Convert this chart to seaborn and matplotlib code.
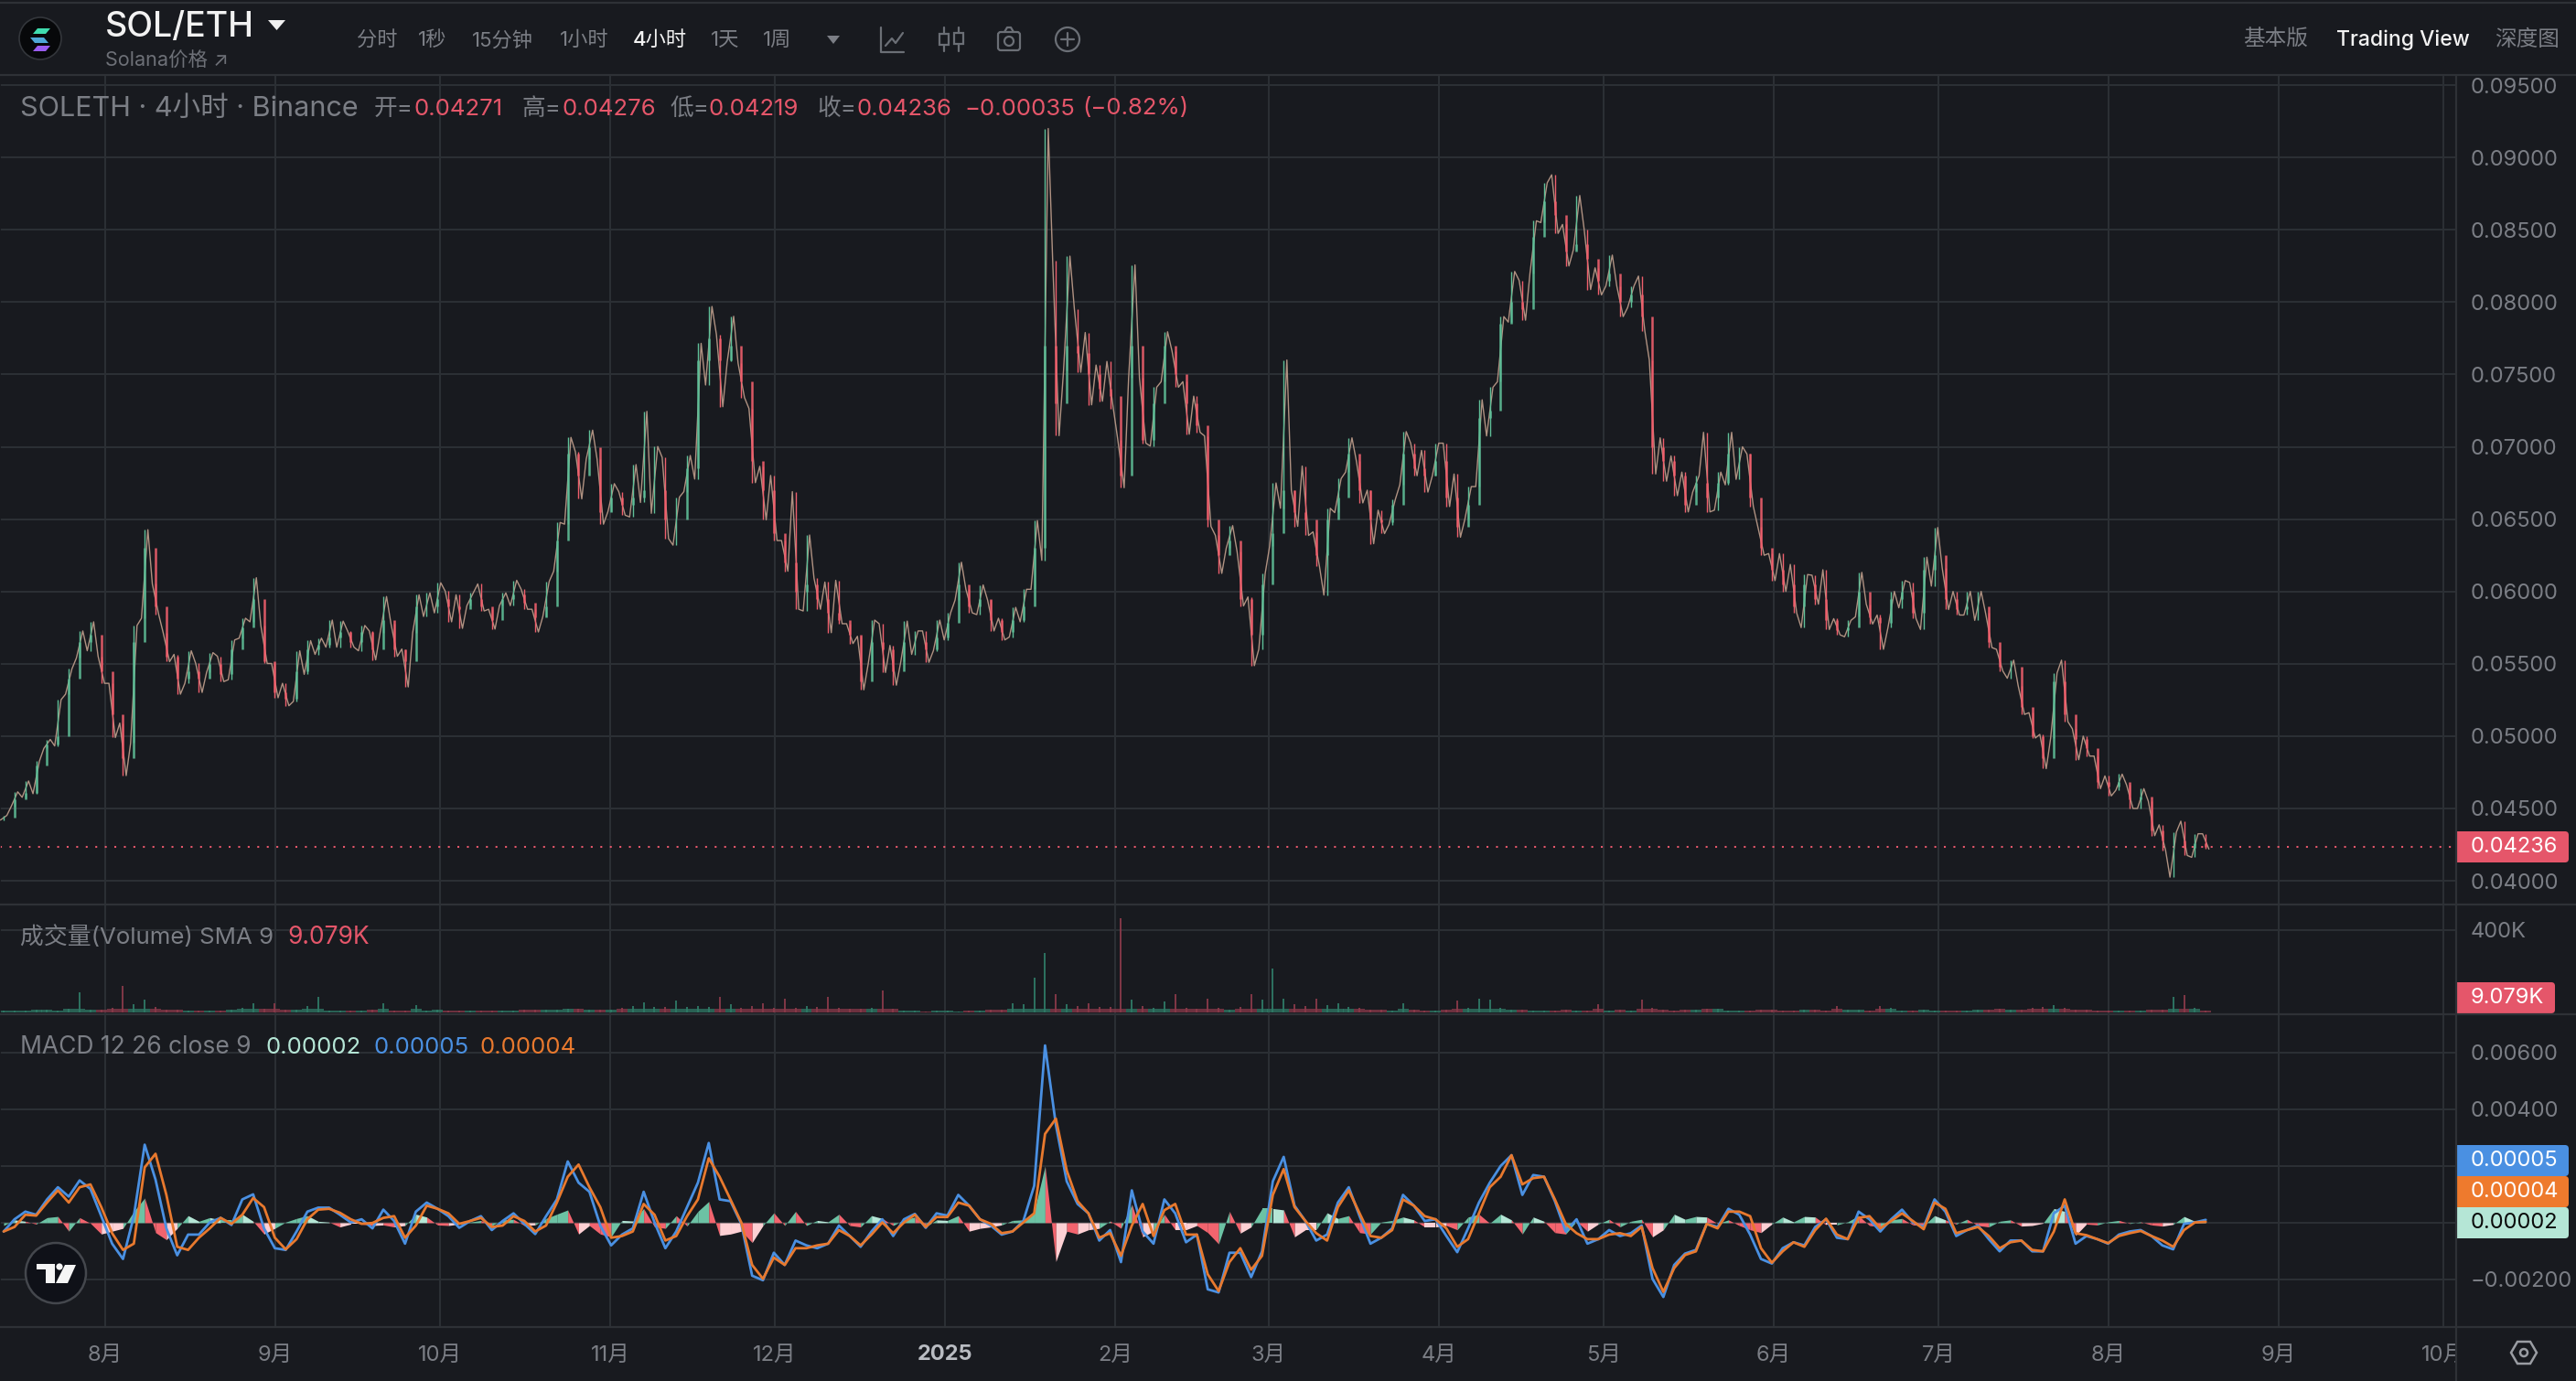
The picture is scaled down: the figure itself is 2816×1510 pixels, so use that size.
import numpy as np
import pandas as pd
import matplotlib
matplotlib.use("Agg")
import matplotlib.pyplot as plt
from matplotlib.patches import Circle, Polygon, Rectangle, FancyBboxPatch, Ellipse
import seaborn as sns

# all price / macd numbers are in 1e-5, volume in K
high = [4452,4615,4690,4827,4977,5252,5465,5727,5790,5552,5365,5090,5765,6427,6052,5715,5565,5590,5502,5577,
        5552,5665,5815,6095,5765,5502,5365,5590,5660,5677,5802,5795,5727,5765,5727,5965,5777,5602,5977,5990,
        6060,6002,5977,5990,6052,5877,5990,6077,6015,5877,6070,6477,
        7065,6965,7115,6915,6745,6690,6877,7245,7002,6927,6652,6940,7715,7970,7777,7902,7577,7265,6865,6802,
        6352,6690,6390,6090,6065,6077,5777,5690,5802,5777,5627,5795,5727,5727,5802,5852,6202,6015,6045,5940,
        5815,5890,6015,6490,9200,8286,8318,7952,7790,7565,7590,
        7050,8257,7475,7412,7795,7662,7450,7350,7075,6387,6455,6275,5962,6125,6750,7600,6700,6867,6412,6575,
        6780,7062,6900,6700,6562,6637,7105,7025,6975,7025,7025,6812,6725,7325,7412,7900,8212,8150,8562,8825,
        8880,8537,8737,8500,8237,8325,8112,8112,8180,7600,7062,
        6937,6825,6800,7100,6825,7100,7000,6950,6450,6262,6262,6187,6117,6112,6150,5812,5800,6132,5912,5837,
        6000,6075,6062,6237,6442,6162,6000,6000,6000,5850,5600,5525,5350,5162,5012,5437,5525,5050,5000,4862,
        4725,4737,4662,4637,4550,4387,4337,4412,4325,4325]
low = [4420,4515,4577,4602,4915,4932,5290,5540,5590,5365,4990,4727,4952,5815,5840,5515,5290,5365,5302,5440,
       5377,5390,5677,5790,5502,5265,5210,5240,5427,5565,5615,5615,5615,5590,5527,5715,5552,5340,5715,5827,
       5852,5790,5745,5902,5865,5740,5902,5902,5877,5720,5827,6140,
       6465,6640,6915,6465,6552,6527,6515,6615,6540,6365,6320,6690,6777,7427,7277,7590,7340,6752,6495,6352,
       6140,5877,5865,5877,5715,5777,5640,5320,5502,5440,5352,5515,5565,5510,5590,5665,5940,5852,5840,5727,
       5665,5685,5790,6015,6215,7077,7527,7515,7290,7315,7265,
       6717,7475,7025,7005,7450,7412,7087,7100,6450,6125,6300,5900,5487,5600,6312,6575,6450,6387,6175,5975,
       6545,6825,6612,6330,6400,6462,6737,6800,6687,6800,6587,6375,6500,6725,7075,7450,7862,7875,8200,8550,
       8475,8250,8362,8087,8050,8112,7900,7962,7800,6812,6762,
       6662,6550,6687,6550,6562,6737,6775,6587,6250,6075,6000,5850,5750,5912,5737,5700,5687,5825,5775,5600,
       5750,5887,5812,5737,6037,5875,5837,5837,5800,5612,5450,5400,5150,4987,4775,4987,5100,4837,4862,4637,
       4587,4625,4500,4500,4312,4212,4025,4175,4162,4219]
close = [4435,4560,4610,4800,4940,5000,5400,5650,5700,5450,5150,4850,5650,6300,5900,5550,5400,5450,5400,5500,
         5430,5600,5750,5950,5520,5300,5260,5450,5600,5630,5680,5720,5650,5720,5600,5800,5600,5520,5900,5900,
         5950,5900,5880,5950,5900,5800,5950,5980,5920,5820,5900,6350,
         6950,6800,7000,6550,6650,6600,6650,6700,6700,6500,6500,6850,7600,7750,7600,7700,7450,6900,6700,6400,
         6200,6000,6050,5950,5850,5800,5700,5380,5650,5600,5450,5650,5650,5600,5680,5780,6050,5900,5950,5800,
         5720,5800,5900,6300,7700,7300,7700,7650,7500,7400,7350,
         6800,7700,7050,7300,7700,7500,7300,7150,6500,6250,6350,5950,5700,6050,6400,6700,6550,6500,6250,6500,
         6650,6950,6700,6500,6480,6600,6950,6850,6800,6900,6650,6450,6600,7200,7250,7850,8000,7950,8450,8700,
         8600,8350,8400,8300,8150,8200,8000,8050,7900,7000,6900,
         6800,6600,6750,6650,6750,6950,6950,6650,6300,6150,6050,5900,6050,5950,5800,5730,5750,6000,5820,5780,
         5950,6000,5850,6150,6250,5950,5880,5900,5900,5650,5480,5480,5200,5000,4850,5380,5150,4980,4920,4680,
         4650,4680,4560,4580,4350,4280,4280,4230,4260,4236]
volume = [8,10,9,12,14,10,16,96,12,14,20,130,40,60,25,14,12,10,9,10,
          10,14,22,45,16,45,12,14,32,75,10,8,9,10,12,45,10,9,35,10,
          12,9,8,10,9,8,9,10,12,15,14,12,18,16,14,12,15,22,30,50,
          26,28,58,26,30,28,75,40,24,30,45,22,66,24,30,28,75,22,18,16,
          22,107,18,10,7,6,7,8,6,8,10,12,14,44,40,170,289,90,40,30,
          44,28,26,458,60,30,22,53,89,24,18,66,22,15,25,89,60,213,66,40,
          30,66,35,44,28,20,14,12,10,44,14,10,8,12,58,24,66,62,22,14,
          12,10,8,10,12,9,8,40,10,12,10,62,24,14,10,12,14,16,18,10,
          9,10,14,12,10,9,12,14,10,31,12,14,10,31,22,10,9,14,10,10,
          8,10,12,14,16,12,15,22,28,36,20,14,12,10,9,10,8,9,12,14,
          76,85,22,10]
macd_line = [-31,12,39,28,82,125,92,149,119,23,-74,-128,23,275,152,-20,-115,-42,-42,1,
             17,-8,82,100,-20,-90,-96,-31,39,53,53,28,1,12,-20,46,6,-74,39,71,
             49,23,-18,6,23,-26,6,33,-4,-40,23,82,216,141,109,-10,-80,-42,-20,109,
             1,-90,-31,55,141,281,82,
             76,-4,-187,-203,-106,-149,-63,-80,-90,-74,-10,-47,-85,-31,12,-47,12,31,-18,33,
             25,98,60,12,-10,-42,-31,6,130,625,345,146,66,33,-63,-26,-139,114,-31,-74,
             82,33,-69,-42,-235,-246,-106,-106,-192,-101,146,232,60,6,-63,-42,71,125,23,-74,
             -53,-20,98,60,6,12,-47,-104,
             -20,71,141,200,238,98,168,162,76,-31,12,-74,-58,-26,-47,-37,-10,-198,-262,-149,
             -109,-96,-4,-15,49,28,-42,-128,-144,-90,-69,-80,-15,12,-53,-58,39,12,-31,12,
             46,1,-15,82,39,-47,-26,-10,-58,-101,-63,-63,-101,-101,33,60,-74,-47,-58,-74,
             -42,-31,-26,-47,-80,-94,-4,1,10]
signal_line = [-31,-15,28,25,71,114,71,125,135,55,-37,-96,-74,195,243,98,-85,-96,-53,-20,
               17,-4,28,87,55,-53,-94,-58,12,46,49,35,12,-4,-1,17,23,-53,-10,60,
               49,33,-4,6,17,-15,-10,23,6,-31,-10,71,162,205,125,55,-53,-47,-31,66,
               28,-63,-47,23,82,227,162,
               82,1,-149,-198,-123,-149,-90,-90,-80,-74,-26,-47,-80,-42,1,-37,1,28,-15,20,
               20,71,60,12,-4,-37,-31,1,33,313,367,184,76,33,-53,-37,-117,-10,66,-47,
               44,66,-42,-42,-182,-241,-139,-90,-166,-117,98,189,55,6,-37,-63,55,114,33,-47,
               -53,-26,82,60,23,12,-20,-85,
               -58,33,125,162,238,135,157,162,82,-4,-37,-58,-58,-42,-37,-47,-15,-160,-244,-160,
               -114,-101,-4,-20,39,39,23,-90,-141,-101,-69,-85,-26,14,-42,-58,17,23,-20,6,
               33,6,-23,71,49,-37,-26,-15,-47,-90,-69,-63,-96,-101,-31,82,-37,-44,-58,-72,
               -47,-37,-29,-47,-63,-85,-26,1,3]
hist = [-10,10,5,-5,18,22,-30,18,-2,-40,-30,-20,40,87,-35,-60,-20,25,5,18,
        10,10,30,5,-40,-20,2,15,25,5,2,-15,-5,-5,-10,-8,-15,-10,30,20,
        -8,-10,-5,2,8,-10,10,12,-10,-8,15,30,45,-40,-10,-40,-50,8,6,50,
        -15,-20,25,-12,40,75,-45,
        -40,-30,-70,-10,35,-10,40,-10,8,3,30,-10,-15,25,15,-10,10,20,-15,10,
        8,25,-30,-20,-15,-8,8,10,40,200,-137,-30,-40,-25,-20,6,-20,65,-50,-30,
        30,-25,-25,-10,-35,-75,40,-37,-15,50,50,45,-50,-25,-25,35,15,25,-35,-40,
        2,8,20,10,-15,-15,-10,-25,
        20,30,-2,30,10,-40,20,5,-35,-40,5,-30,-5,12,-15,5,12,-50,-25,30,
        12,22,20,-3,10,-10,-25,-35,-5,20,3,22,20,-8,-8,3,25,-10,-15,10,
        15,-8,-10,25,10,-5,12,-10,-15,5,10,-12,-10,-2,50,40,-45,-5,-8,3,
        8,-3,3,-8,-12,-6,22,5,2]

month_dates = ["2024-08-01","2024-09-01","2024-10-01","2024-11-01","2024-12-01","2025-01-01","2025-02-01",
               "2025-03-01","2025-04-01","2025-05-01","2025-06-01","2025-07-01","2025-08-01","2025-09-01","2025-10-01"]
month_labels = ["8月","9月","10月","11月","12月","2025","2月","3月","4月","5月","6月","7月","8月","9月","10月"]
price_ticks = [9500,9000,8500,8000,7500,7000,6500,6000,5500,5000,4500,4000]
macd_ticks = [600,400,200,0,-200]
macd_tick_labels = ["0.00600","0.00400","","","\u22120.00200"]  # the two middle ones sit under the value tags

W, H = 2816, 1510
BG = "#181a1f"
GRID = "#2b2f34"
GREY = "#7b7e85"
RED = "#e5566a"
GREEN = "#5fbf98"
CAND_RED = "#ef5f6c"

sns.set_theme(style="darkgrid", rc={"axes.facecolor": BG, "figure.facecolor": BG, "grid.color": GRID,
                                    "grid.linewidth": 1.5, "axes.edgecolor": BG})
plt.rcParams["font.family"] = ["Inter", "Noto Sans CJK SC", "DejaVu Sans"]

dates = pd.date_range("2024-07-13 12:00", periods=len(close), freq="2846min")
df = pd.DataFrame({"date": dates, "high": np.array(high) / 1e5, "low": np.array(low) / 1e5,
                   "close": np.array(close) / 1e5, "volume": np.array(volume) * 1e3,
                   "macd": np.array(macd_line) / 1e5, "signal": np.array(signal_line) / 1e5,
                   "hist": np.array(hist) / 1e5})
df["open"] = df["close"].shift(1).fillna(df["close"])
up = df["close"] >= df["open"]
months = pd.to_datetime(month_dates)

fig = plt.figure(figsize=(W / 100, H / 100), dpi=100)


def pane(y0, y1):
    return fig.add_axes([0, 1 - y1 / H, 2685 / W, (y1 - y0) / H])


ax_price = pane(82, 989)
ax_vol = pane(989, 1109)
ax_macd = pane(1109, 1451)
x_range = (pd.Timestamp("2024-07-12 20:00"), pd.Timestamp("2025-10-03 08:00"))

for ax in (ax_price, ax_vol, ax_macd):
    ax.set_xlim(x_range)
    ax.set_xticks(months)
    ax.set_axisbelow(True)
    ax.yaxis.tick_right()
    ax.tick_params(axis="y", length=0, pad=11, labelsize=17, labelcolor=GREY)
    ax.tick_params(axis="x", length=0, labelbottom=False)

# price pane: each bucket is walked low-high or high-low so the trace stays jagged
half = pd.Timedelta(hours=14)
zig_x, zig_y = [], []
for row, is_up in zip(df.itertuples(), up):
    first, second = (row.low, row.high) if is_up else (row.high, row.low)
    zig_x += [row.date - half, row.date + half]
    zig_y += [first, second]
zig = pd.DataFrame({"date": zig_x, "price": zig_y})
sns.lineplot(data=zig, x="date", y="price", ax=ax_price, color="#b09282", linewidth=1.0,
             estimator=None, sort=False, zorder=3)
wick_colors = [GREEN if u else CAND_RED for u in up]
ax_price.vlines(df["date"], df["low"], df["high"], colors=wick_colors, linewidth=1.0, zorder=4)
ax_price.vlines(df["date"], df[["open", "close"]].min(axis=1), df[["open", "close"]].max(axis=1),
                colors=wick_colors, linewidth=1.8, alpha=0.9, zorder=4)
ax_price.axhline(close[-1] / 1e5, color=RED, linestyle=(0, (1, 4)), linewidth=1.5, zorder=2)
ax_price.set_ylim(0.03836, 0.0957)
ax_price.set_yticks([t / 1e5 for t in price_ticks])
ax_price.set_yticklabels([f"{t / 1e5:.5f}" for t in price_ticks])
ax_price.set_xlabel("")
ax_price.set_ylabel("")

# volume pane
vol_colors = ["#2f7a66" if u else "#8a3a4a" for u in up]
ax_vol.bar(df["date"], df["volume"].clip(upper=16000), width=1.98, color=vol_colors, linewidth=0, alpha=0.75)
ax_vol.vlines(df["date"], 0, df["volume"], colors=vol_colors, linewidth=1.3)
ax_vol.set_ylim(-9000, 524000)
ax_vol.set_yticks([400000])
ax_vol.set_yticklabels(["400K"])

# macd pane
h = df["hist"].values
d = df["date"].values
for i in range(len(h)):
    prev = h[i - 1] if i else 0
    if h[i] >= 0:
        col = "#6cc2a4" if h[i] >= prev else "#b5e6d6"
    else:
        col = "#fdd0d4" if h[i] >= prev else "#f2646e"
    if i:
        ax_macd.fill_between(d[i - 1:i + 1], 0, h[i - 1:i + 1], color=col, linewidth=0, zorder=2)
sns.lineplot(data=df, x="date", y="macd", ax=ax_macd, color="#4a90e2", linewidth=2.0, estimator=None, zorder=3)
sns.lineplot(data=df, x="date", y="signal", ax=ax_macd, color="#e8792e", linewidth=2.0, estimator=None, zorder=4)
ax_macd.set_ylim(-0.00368, 0.00735)
ax_macd.set_yticks([t / 1e5 for t in macd_ticks])
ax_macd.set_yticklabels(macd_tick_labels)
ax_macd.set_xlabel("")
ax_macd.set_ylabel("")
ax_macd.tick_params(axis="x", labelbottom=True, pad=14, labelsize=17, labelcolor=GREY)
ax_macd.set_xticks(months)
ax_macd.set_xticklabels(month_labels)
for lbl, name in zip(ax_macd.get_xticklabels(), month_labels):
    if name == "2025":
        lbl.set_fontweight("bold")
        lbl.set_color("#b9bcc2")

# page chrome drawn in pixel coordinates
ui = fig.add_axes([0, 0, 1, 1], zorder=10)
ui.set_xlim(0, W)
ui.set_ylim(H, 0)
ui.axis("off")
ui.patch.set_alpha(0)


def txt(x, y, s, color=GREY, size=16, weight="normal", ha="left"):
    ui.text(x, y, s, color=color, fontsize=size, fontweight=weight, ha=ha, va="center")


ui.add_patch(Rectangle((2686, 1452), 130, 58, facecolor=BG, edgecolor="none"))
ui.add_patch(Rectangle((0, 0), W, 81, facecolor=BG, edgecolor="none"))
for y in (3, 82, 989, 1109, 1451):
    ui.plot([0, W], [y, y], color="#2e3136", lw=1.6, solid_capstyle="butt")
ui.plot([2685, 2685], [82, 1510], color="#2e3136", lw=1.6)

# solana logo
ui.add_patch(Ellipse((44, 42), 46, 46, facecolor="#07080a", edgecolor="#33363b", lw=1.2))
for y0, c in [(31, "#3fdcae"), (41, "#4fa6d6"), (50, "#9a5cf0")]:
    ui.add_patch(Polygon([[36, y0 + 6], [50, y0 + 6], [55, y0], [41, y0]] if y0 != 41 else
                         [[33, y0], [48, y0], [53, y0 + 6], [38, y0 + 6]], facecolor=c, edgecolor="none"))

txt(115, 30, "SOL/ETH", "#f2f2f2", 27, "medium")
ui.add_patch(Polygon([[293, 22], [312, 22], [302.5, 33]], facecolor="#f0f0f0", edgecolor="none"))
txt(115, 67, "Solana价格 ↗", "#6d7077", 15.5)

for x, s, c in [(390, "分时", GREY), (457, "1秒", GREY), (516, "15分钟", GREY), (612, "1小时", GREY),
                (692, "4小时", "#f2f2f2"), (777, "1天", GREY), (834, "1周", GREY)]:
    txt(x, 44, s, c, 16, "medium" if c != GREY else "normal")
ui.add_patch(Polygon([[904, 39], [918, 39], [911, 48]], facecolor=GREY, edgecolor="none"))

# toolbar icons
ic = "#6b6f76"
ui.plot([963, 963, 988], [30, 57, 57], color=ic, lw=1.6)
ui.plot([968, 975, 979, 987], [50, 42, 47, 36], color=ic, lw=1.6)
ui.plot([1032, 1032], [30, 56], color=ic, lw=1.6)
ui.plot([1048, 1048], [30, 56], color=ic, lw=1.6)
ui.add_patch(Rectangle((1027, 37), 10, 12, facecolor=BG, edgecolor=ic, lw=1.6, zorder=3))
ui.add_patch(Rectangle((1043, 36), 10, 12, facecolor=BG, edgecolor=ic, lw=1.6, zorder=3))
ui.add_patch(FancyBboxPatch((1091, 35), 24, 20, boxstyle="round,pad=0,rounding_size=3", fill=False, edgecolor=ic, lw=1.6))
ui.add_patch(Circle((1103, 45), 5, fill=False, edgecolor=ic, lw=1.6))
ui.plot([1098, 1101, 1105, 1108], [35, 30, 30, 35], color=ic, lw=1.6)
ui.add_patch(Circle((1167, 43), 13, fill=False, edgecolor=ic, lw=1.6))
ui.plot([1160, 1174], [43, 43], color=ic, lw=1.6)
ui.plot([1167, 1167], [36, 50], color=ic, lw=1.6)

txt(2488, 44, "基本版", GREY, 17, ha="center")
txt(2627, 44, "Trading View", "#f2f2f2", 16.5, "medium", "center")
txt(2763, 44, "深度图", GREY, 17, ha="center")

# legend rows
txt(22, 119, "SOLETH · 4小时 · Binance", GREY, 22)
for x, s, c in [(409, "开=", GREY), (453, "0.04271", RED), (571, "高=", GREY), (614, "0.04276", RED),
                (732, "低=", GREY), (775, "0.04219", RED), (893, "收=", GREY), (936, "0.04236", RED),
                (1054, "−0.00035", RED), (1183, "(−0.82%)", RED)]:
    txt(x, 119, s, c, 18.5)
txt(22, 1025, "成交量(Volume) SMA 9", GREY, 18.6)
txt(314, 1025, "9.079K", RED, 19)
txt(22, 1145, "MACD 12 26 close 9", GREY, 19)
txt(291, 1145, "0.00002", "#b5e6d6", 18.5)
txt(408, 1145, "0.00005", "#4a90e2", 18.5)
txt(524, 1145, "0.00004", "#e8792e", 18.5)

# value tags on the price scale
for y0, y1, x1, s, fc, tc in [(909, 943, 2808, "0.04236", RED, "#ffffff"),
                              (1074, 1108, 2793, "9.079K", RED, "#ffffff"),
                              (1252, 1286, 2808, "0.00005", "#4a90e2", "#ffffff"),
                              (1286, 1320, 2808, "0.00004", "#ee7a2d", "#ffffff"),
                              (1320, 1354, 2808, "0.00002", "#b5e6d6", "#0b0b0b")]:
    ui.add_patch(FancyBboxPatch((2684, y0), x1 - 2684, y1 - y0, boxstyle="round,pad=0,rounding_size=4",
                                facecolor=fc, edgecolor="none"))
    ui.add_patch(Rectangle((2684, y0), 10, y1 - y0, facecolor=fc, edgecolor="none"))
    txt(2701, (y0 + y1) / 2, s, tc, 17)

# eye icon
ui.add_patch(Polygon([[2745, 1479], [2752, 1467], [2766, 1467], [2773, 1479], [2766, 1491], [2752, 1491]],
                     fill=False, edgecolor="#9a9da3", lw=1.8))
ui.add_patch(Circle((2759, 1479), 4, fill=False, edgecolor="#9a9da3", lw=1.8))

# tradingview badge
ui.add_patch(Circle((61, 1392), 33, facecolor="#0f1118", edgecolor="#44474d", lw=1.8))
ui.add_patch(Polygon([[40, 1382], [60, 1382], [60, 1403], [50, 1403], [50, 1388], [40, 1388]], facecolor="#f5f5f5", edgecolor="none"))
ui.add_patch(Circle((65, 1385), 3.6, facecolor="#f5f5f5", edgecolor="none"))
ui.add_patch(Polygon([[71, 1383], [83, 1383], [74, 1403], [61, 1403]], facecolor="#f5f5f5", edgecolor="none"))

fig.savefig("out.png", dpi=100, facecolor=BG)
